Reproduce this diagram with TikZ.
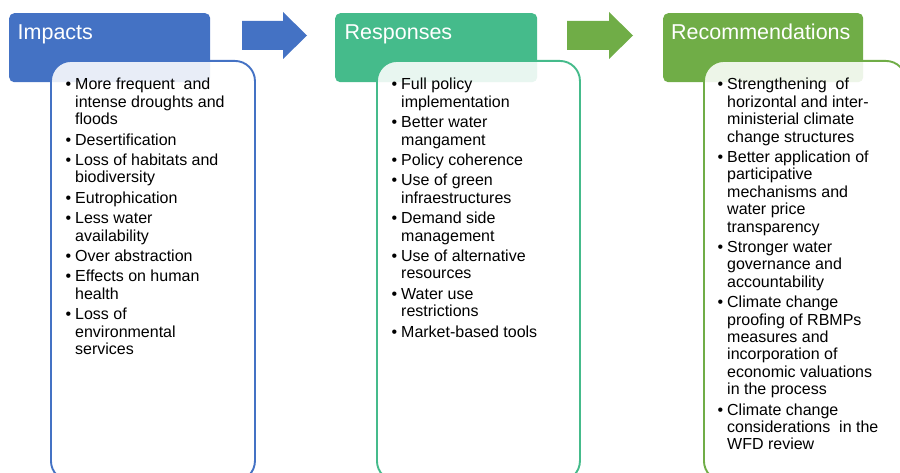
\documentclass[tikz,border=0pt]{standalone}
\usepackage{fontspec}
\setmainfont{Liberation Sans}
\usepackage{array}

\definecolor{impblue}{HTML}{4472C4}
\definecolor{resteal}{HTML}{45BB8B}
\definecolor{recgreen}{HTML}{70AD47}

\tikzset{
  header/.style={rounded corners=5pt, draw=none, anchor=north west, inner sep=0pt},
  headtext/.style={anchor=base west, inner sep=0pt, text=white, font=\fontsize{21.5}{24}\selectfont},
  panel/.style={rounded corners=20pt, line width=1.9pt, fill=white, fill opacity=0.88,
                anchor=north west, inner sep=0pt, minimum height=420pt},
  listtext/.style={anchor=base west, inner sep=0pt, text=black, font=\fontsize{16}{17.4}\selectfont}
}

% bullet list: bullet column plus text column, first row sets the baseline
\newcommand{\bl}{\textbullet &}
\newenvironment{bullets}{\renewcommand{\arraystretch}{1}\begin{tabular}[t]{@{}p{9.5pt}@{}l@{}}}{\end{tabular}}

\begin{document}
\begin{tikzpicture}[x=1pt, y=1pt]
  \useasboundingbox (0,0) rectangle (900,-473);
  \clip (0,0) rectangle (900,-473);

  % column headers
  \node[header, fill=impblue,  minimum width=201pt, minimum height=69pt] (h1) at (9,-13) {};
  \node[header, fill=resteal,  minimum width=202pt, minimum height=69pt] (h2) at (335,-13) {};
  \node[header, fill=recgreen, minimum width=200pt, minimum height=69pt] (h3) at (663,-13) {};

  \node[headtext] (h1t) at (17.5,-40) {Impacts};
  \node[headtext] (h2t) at (344.5,-40) {Responses};
  \node[headtext] (h3t) at (671,-40) {Recommendations};

  % block arrows between columns
  \fill[impblue] (242,-21) -- (283,-21) -- (283,-12) -- (307,-35.5) -- (283,-59) -- (283,-50) -- (242,-50) -- cycle;
  \fill[recgreen] (567,-21) -- (609,-21) -- (609,-12) -- (633,-35.5) -- (609,-59) -- (609,-50) -- (567,-50) -- cycle;

  % content panels overlapping the headers
  \node[panel, draw=impblue,  minimum width=204pt] (p1) at (50,-60) {};
  \node[panel, draw=resteal,  minimum width=203pt] (p2) at (376,-60) {};
  \node[panel, draw=recgreen, minimum width=202pt] (p3) at (703,-60) {};

  % panel contents
  \node[listtext] (l1) at (65.5,-90) {\begin{bullets}
    \bl More frequent\ \ and\\ & intense droughts and\\ & floods\\[3pt]
    \bl Desertification\\[3pt]
    \bl Loss of habitats and\\ & biodiversity\\[3pt]
    \bl Eutrophication\\[3pt]
    \bl Less water\\ & availability\\[3pt]
    \bl Over abstraction\\[3pt]
    \bl Effects on human\\ & health\\[3pt]
    \bl Loss of\\ & environmental\\ & services
  \end{bullets}};

  \node[listtext] (l2) at (391.5,-90) {\begin{bullets}
    \bl Full policy\\ & implementation\\[3pt]
    \bl Better water\\ & mangament\\[3pt]
    \bl Policy coherence\\[3pt]
    \bl Use of green\\ & infraestructures\\[3pt]
    \bl Demand side\\ & management\\[3pt]
    \bl Use of alternative\\ & resources\\[3pt]
    \bl Water use\\ & restrictions\\[3pt]
    \bl Market-based tools
  \end{bullets}};

  \node[listtext] (l3) at (717.5,-90) {\begin{bullets}
    \bl Strengthening\ \ of\\ & horizontal and inter-\\ & ministerial climate\\ & change structures\\[3pt]
    \bl Better application of\\ & participative\\ & mechanisms and\\ & water price\\ & transparency\\[3pt]
    \bl Stronger water\\ & governance and\\ & accountability\\[3pt]
    \bl Climate change\\ & proofing of RBMPs\\ & measures and\\ & incorporation of\\ & economic valuations\\ & in the process\\[3pt]
    \bl Climate change\\ & considerations\ \ in the\\ & WFD review
  \end{bullets}};
\end{tikzpicture}
\end{document}
